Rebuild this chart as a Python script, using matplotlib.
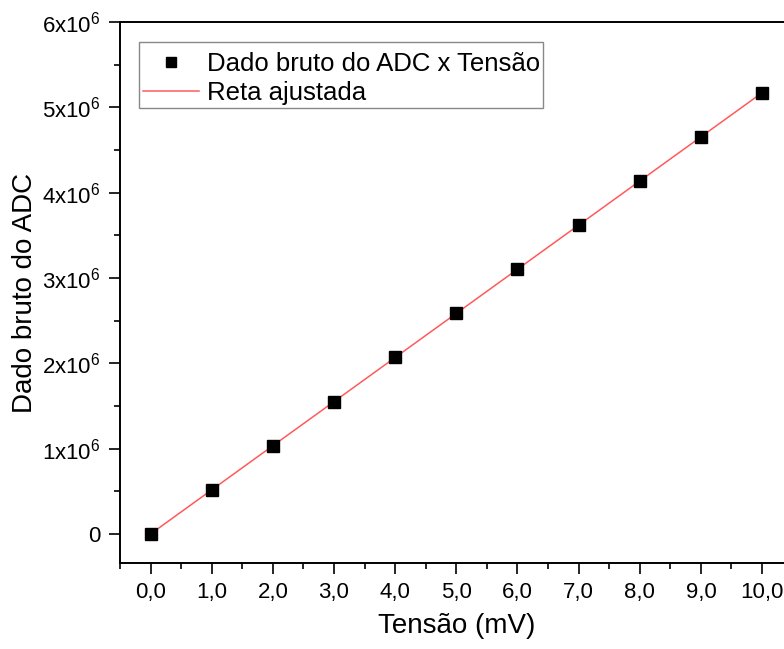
import numpy as np
import matplotlib
matplotlib.use("Agg")
import matplotlib.pyplot as plt
from matplotlib.ticker import MultipleLocator, FuncFormatter
from matplotlib.patches import Rectangle

plt.rcParams['font.family'] = ['Liberation Sans', 'DejaVu Sans']
plt.rcParams['mathtext.fontset'] = 'custom'
plt.rcParams['mathtext.rm'] = 'Liberation Sans'
plt.rcParams['mathtext.it'] = 'Liberation Sans:italic'
plt.rcParams['mathtext.bf'] = 'Liberation Sans:bold'

# Data
tensao = [0, 1, 2, 3, 4, 5, 6, 7, 8, 9, 10]
adc = [0, 0.516e6, 1.032e6, 1.547e6, 2.070e6, 2.590e6, 3.107e6, 3.620e6, 4.135e6, 4.650e6, 5.170e6]
x_tick_labels = ['0,0', '1,0', '2,0', '3,0', '4,0', '5,0', '6,0', '7,0', '8,0', '9,0', '10,0']

coef = np.polyfit(tensao, adc, 1)
xf = np.array([tensao[0], tensao[-1]])
yf = np.polyval(coef, xf)

fig = plt.figure(figsize=(7.84, 6.49), dpi=100)
ax = fig.add_axes([0.153, 0.1325, 0.858, 0.8336])

ax.plot(xf, yf, color='#ff5a5a', lw=1.1, label='Reta ajustada', zorder=2)
ax.plot(tensao, adc, ls='none', marker='s', ms=8.5, color='black',
        label='Dado bruto do ADC x Tensão', zorder=3)

ax.set_xlim(-0.5, 10.5)
ax.set_ylim(-0.34e6, 6e6)

ax.set_xticks(tensao)
ax.set_xticklabels(x_tick_labels)
ax.xaxis.set_minor_locator(MultipleLocator(0.5))
ax.yaxis.set_major_locator(MultipleLocator(1e6))
ax.yaxis.set_minor_locator(MultipleLocator(0.5e6))

def yfmt(v, pos):
    n = int(round(v / 1e6))
    if n == 0:
        return '0'
    return r'%dx10$^{6}$' % n
ax.yaxis.set_major_formatter(FuncFormatter(yfmt))

ax.tick_params(axis='both', which='major', direction='out', length=8, width=1.2,
               labelsize=16, pad=6)
ax.tick_params(axis='both', which='minor', direction='out', length=4.5, width=1.2)
ax.tick_params(top=False, right=False, which='both')

for s in ax.spines.values():
    s.set_linewidth(1.4)

ax.set_xlabel('Tensão (mV)', fontsize=20, labelpad=7)
ax.set_ylabel('Dado bruto do ADC', fontsize=20, labelpad=3)

handles, labels = ax.get_legend_handles_labels()
leg = ax.legend(handles[::-1], labels[::-1], loc='upper left',
                bbox_to_anchor=(0.034, 0.944), fontsize=18.5,
                frameon=False, handlelength=2.2, handletextpad=0.3,
                borderpad=0.0, labelspacing=0.2, borderaxespad=0,
                numpoints=1, markerscale=0.8)

# frame around legend with asymmetric padding
fig.canvas.draw()
bb = leg.get_window_extent(fig.canvas.get_renderer())
pad_l, pad_r, pad_t, pad_b = 4, 3, 10, 3
rect = Rectangle((bb.x0 - pad_l, bb.y0 - pad_b), bb.width + pad_l + pad_r,
                 bb.height + pad_t + pad_b, transform=None, fill=False,
                 edgecolor='#888888', linewidth=1.0, zorder=5)
fig.add_artist(rect)

fig.savefig('out.png', dpi=100)
